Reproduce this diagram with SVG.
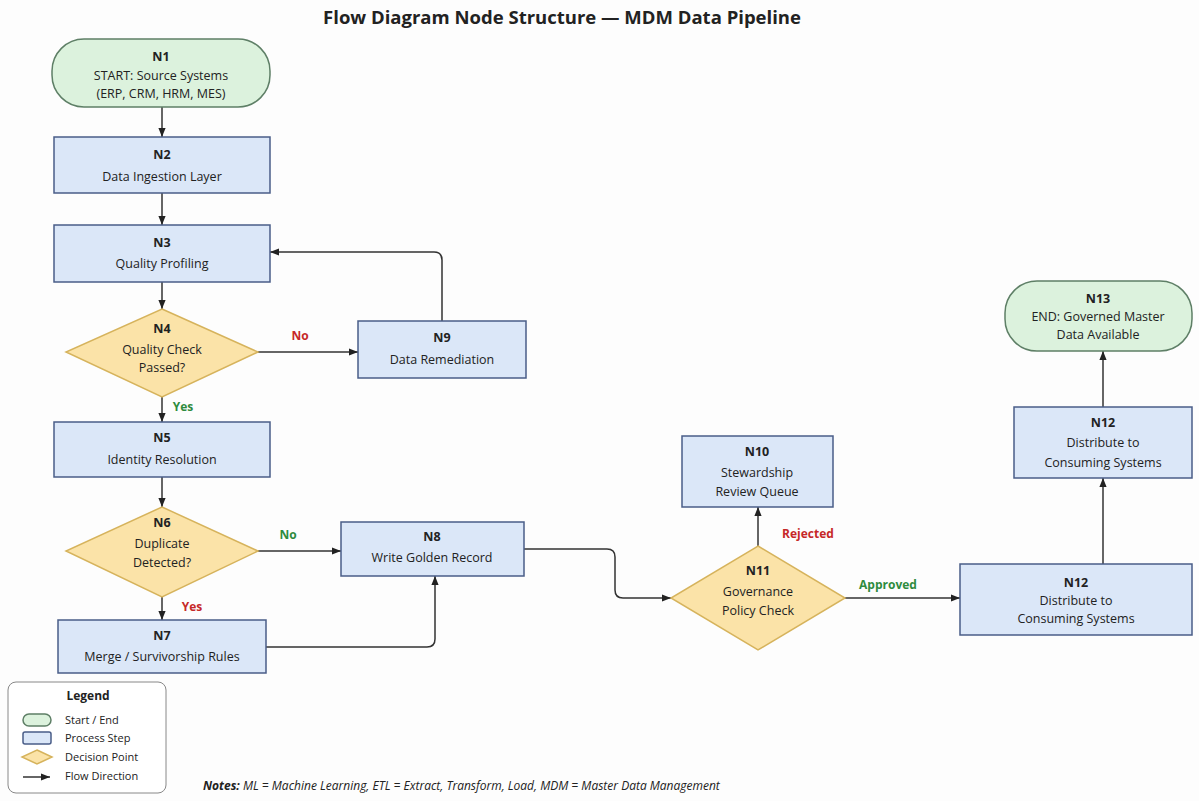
<svg xmlns="http://www.w3.org/2000/svg" width="1199" height="801" viewBox="0 0 1199 801">
<defs>
<marker id="arr" viewBox="0 0 10 8" refX="10" refY="4" markerWidth="9" markerHeight="7.5" markerUnits="userSpaceOnUse" orient="auto"><path d="M0,0 L10,4 L0,8 z" fill="#222"/></marker>
<style>
.t{font-family:"Open Sans","Liberation Sans",sans-serif;fill:#222;text-anchor:middle}
.h{font-size:12.5px;font-weight:bold}
.l{font-size:12.5px}
.se{fill:#dcf2dd;stroke:#5e7f66;stroke-width:1.5}
.pr{fill:#dbe7f8;stroke:#4a5d88;stroke-width:1.5}
.de{fill:#fbe3a8;stroke:#d6b35c;stroke-width:1.5}
.c{fill:none;stroke:#333;stroke-width:1.5;marker-end:url(#arr)}
.no{font-size:12px;font-weight:bold;fill:#c62828}
.ye{font-size:12px;font-weight:bold;fill:#2e8b3e}
.lg{font-family:"Open Sans","Liberation Sans",sans-serif;font-size:11px;fill:#222}
</style>
</defs>
<rect width="1199" height="801" fill="#fdfdfd"/>
<text class="t" x="562" y="24" font-size="18.5" font-weight="bold">Flow Diagram Node Structure — MDM Data Pipeline</text>

<g id="connectors">
<path class="c" d="M162,107 V137"/>
<path class="c" d="M162,193 V225"/>
<path class="c" d="M162,282 V309"/>
<path class="c" d="M258,352 H358"/>
<path class="c" d="M442,321 V260 Q442,252 434,252 H270"/>
<path class="c" d="M162,397 V422"/>
<path class="c" d="M162,477 V507"/>
<path class="c" d="M258,551 H341"/>
<path class="c" d="M162,597 V620"/>
<path class="c" d="M266,647 H427 Q435,647 435,639 V576"/>
<path class="c" d="M524,549 H607 Q615,549 615,557 V590 Q615,598 623,598 H671"/>
<path class="c" d="M758,546 V507"/>
<path class="c" d="M845,598 H960"/>
<path class="c" d="M1103,564 V478"/>
<path class="c" d="M1103,407 V351"/>
<text class="t no" x="300" y="340">No</text>
<text class="t ye" x="183" y="411">Yes</text>
<text class="t ye" x="288" y="539">No</text>
<text class="t no" x="192" y="611">Yes</text>
<text class="t no" x="808" y="538">Rejected</text>
<text class="t ye" x="888" y="589">Approved</text>
</g>

<g id="N1"><rect class="se" x="52" y="39" width="218" height="68" rx="32"/>
<text class="t h" x="161" y="61">N1</text><text class="t l" x="161" y="80">START: Source Systems</text><text class="t l" x="161" y="98">(ERP, CRM, HRM, MES)</text></g>
<g id="N2"><rect class="pr" x="54" y="137" width="216" height="56"/>
<text class="t h" x="162" y="159">N2</text><text class="t l" x="162" y="181">Data Ingestion Layer</text></g>
<g id="N3"><rect class="pr" x="54" y="225" width="216" height="57"/>
<text class="t h" x="162" y="247">N3</text><text class="t l" x="162" y="268">Quality Profiling</text></g>
<g id="N4"><polygon class="de" points="162,309 258,352 162,397 66,352"/>
<text class="t h" x="162" y="333">N4</text><text class="t l" x="162" y="354">Quality Check</text><text class="t l" x="162" y="372">Passed?</text></g>
<g id="N9"><rect class="pr" x="358" y="321" width="168" height="57"/>
<text class="t h" x="442" y="342">N9</text><text class="t l" x="442" y="364">Data Remediation</text></g>
<g id="N5"><rect class="pr" x="54" y="422" width="216" height="55"/>
<text class="t h" x="162" y="442">N5</text><text class="t l" x="162" y="464">Identity Resolution</text></g>
<g id="N6"><polygon class="de" points="162,507 258,551 162,597 66,551"/>
<text class="t h" x="162" y="527">N6</text><text class="t l" x="162" y="548">Duplicate</text><text class="t l" x="162" y="567">Detected?</text></g>
<g id="N7"><rect class="pr" x="58" y="620" width="208" height="53"/>
<text class="t h" x="162" y="640">N7</text><text class="t l" x="162" y="661">Merge / Survivorship Rules</text></g>
<g id="N8"><rect class="pr" x="341" y="522" width="183" height="54"/>
<text class="t h" x="432" y="541">N8</text><text class="t l" x="432" y="562">Write Golden Record</text></g>
<g id="N11"><polygon class="de" points="758,546 845,598 758,650 671,598"/>
<text class="t h" x="758" y="575">N11</text><text class="t l" x="758" y="596">Governance</text><text class="t l" x="758" y="615">Policy Check</text></g>
<g id="N10"><rect class="pr" x="682" y="436" width="151" height="71"/>
<text class="t h" x="757" y="456">N10</text><text class="t l" x="757" y="477">Stewardship</text><text class="t l" x="757" y="496">Review Queue</text></g>
<g id="N12a"><rect class="pr" x="960" y="564" width="232" height="71"/>
<text class="t h" x="1076" y="587">N12</text><text class="t l" x="1076" y="605">Distribute to</text><text class="t l" x="1076" y="623">Consuming Systems</text></g>
<g id="N12b"><rect class="pr" x="1014" y="407" width="178" height="71"/>
<text class="t h" x="1103" y="427">N12</text><text class="t l" x="1103" y="447">Distribute to</text><text class="t l" x="1103" y="467">Consuming Systems</text></g>
<g id="N13"><rect class="se" x="1005" y="281" width="187" height="70" rx="32"/>
<text class="t h" x="1098" y="303">N13</text><text class="t l" x="1098" y="321">END: Governed Master</text><text class="t l" x="1098" y="339">Data Available</text></g>

<g id="legend">
<rect x="8" y="682" width="158" height="111" rx="8" fill="#fff" stroke="#888" stroke-width="1"/>
<text class="t" x="88" y="700" font-size="12" font-weight="bold">Legend</text>
<rect class="se" x="23" y="714" width="28" height="12" rx="6"/>
<text class="lg" x="65" y="724">Start / End</text>
<rect class="pr" x="23" y="732" width="28" height="12" rx="2"/>
<text class="lg" x="65" y="742">Process Step</text>
<polygon class="de" points="37,750 52,757 37,764 22,757"/>
<text class="lg" x="65" y="761">Decision Point</text>
<path class="c" d="M23,777 H50"/>
<text class="lg" x="65" y="780">Flow Direction</text>
</g>
<text x="203" y="790" font-family="'Open Sans','Liberation Sans',sans-serif" font-size="12" font-style="italic" fill="#222"><tspan font-weight="bold">Notes:</tspan> ML = Machine Learning, ETL = Extract, Transform, Load,  MDM = Master Data Management</text>
</svg>
